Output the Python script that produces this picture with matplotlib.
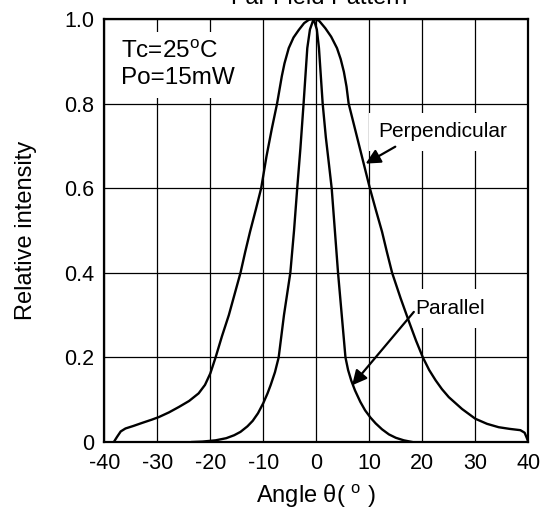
import numpy as np
import matplotlib.pyplot as plt

plt.rcParams['font.family'] = ['Liberation Sans', 'DejaVu Sans']
plt.rcParams['mathtext.fontset'] = 'custom'
plt.rcParams['mathtext.rm'] = 'Liberation Sans'
plt.rcParams['axes.unicode_minus'] = False

# far field pattern, relative intensity vs angle (deg)
perp_angle = [-38.2, -37.6, -36.9, -36.0, -34.5, -32.9, -31.0, -29.7, -27.8, -25.9,
              -24.0, -22.2, -21.0, -20.0, -19.0, -17.8, -16.5, -15.4, -14.3, -13.4,
              -12.5, -11.4, -10.4, -9.4, -8.4, -7.4, -6.5, -6.0, -5.2, -4.3,
              -3.3, -2.3, -1.4, -0.5, 0.5, 1.7, 2.8, 3.9, 4.6, 5.2,
              5.7, 6.1, 7.1, 8.1, 9.1, 10.1, 11.2, 12.4, 13.3, 14.3,
              15.9, 17.5, 18.8, 20.1, 21.3, 22.5, 23.7, 25.0, 27.5, 30.0,
              32.2, 34.4, 36.5, 38.5, 39.3, 39.7, 40.0]
perp_int = [0.0, 0.012, 0.025, 0.032, 0.038, 0.045, 0.053, 0.059, 0.070, 0.083,
            0.097, 0.115, 0.135, 0.162, 0.200, 0.250, 0.300, 0.350, 0.400, 0.450,
            0.497, 0.550, 0.600, 0.675, 0.740, 0.800, 0.865, 0.895, 0.931, 0.956,
            0.974, 0.990, 0.998, 1.0, 0.996, 0.978, 0.958, 0.931, 0.905, 0.875,
            0.840, 0.800, 0.750, 0.700, 0.650, 0.600, 0.550, 0.497, 0.450, 0.400,
            0.340, 0.284, 0.240, 0.200, 0.170, 0.146, 0.125, 0.106, 0.078, 0.055,
            0.043, 0.035, 0.031, 0.028, 0.022, 0.010, 0.0]

par_angle = [-23.4, -21.5, -19.0, -17.0, -15.5, -14.3, -13.0, -12.0, -11.0, -10.0,
             -9.2, -8.6, -7.8, -7.1, -6.6, -6.1, -5.5, -4.9, -4.2, -3.6,
             -3.0, -2.4, -1.7, -1.2, -0.5, 0.1, 0.5, 1.2, 1.8, 2.4,
             2.9, 3.5, 4.1, 4.8, 5.5, 6.0, 6.6, 7.3, 8.3, 9.2,
             10.2, 11.2, 12.4, 13.7, 15.0, 16.5, 18.1]
par_int = [0.0, 0.001, 0.004, 0.009, 0.016, 0.024, 0.037, 0.050, 0.068, 0.092,
           0.115, 0.135, 0.165, 0.200, 0.250, 0.300, 0.350, 0.400, 0.500, 0.600,
           0.694, 0.800, 0.931, 0.975, 1.0, 0.975, 0.931, 0.800, 0.720, 0.655,
           0.600, 0.500, 0.400, 0.300, 0.200, 0.170, 0.145, 0.122, 0.095, 0.075,
           0.058, 0.044, 0.030, 0.018, 0.010, 0.004, 0.0]

x_ticks = [-40, -30, -20, -10, 0, 10, 20, 30, 40]
y_ticks = [0, 0.2, 0.4, 0.6, 0.8, 1.0]
y_labels = ['0', '0.2', '0.4', '0.6', '0.8', '1.0']

fig = plt.figure(figsize=(5.5, 5.11), dpi=100)
ax = fig.add_axes([0.1896, 0.135, 0.7710, 0.8280])

ax.plot(perp_angle, perp_int, color='black', lw=1.7, zorder=5)
ax.plot(par_angle, par_int, color='black', lw=1.7, zorder=5)

ax.set_xlim(-40, 40)
ax.set_ylim(0, 1.0)
ax.set_xticks(x_ticks)
ax.set_yticks(y_ticks)
ax.set_yticklabels(y_labels)
ax.tick_params(length=0, labelsize=15.5)
ax.tick_params(axis='y', pad=7)
ax.tick_params(axis='x', pad=8)
ax.grid(True, color='black', lw=0.9)
ax.set_axisbelow(True)
for s in ax.spines.values():
    s.set_linewidth(1.6)

ax.set_xlabel('Angle θ( $^{\\rm o}$ )', fontsize=17, labelpad=6)
ax.set_ylabel('Relative intensity', fontsize=17, labelpad=20)

fig.text(0.58, 1 - 3.5 / 511, 'Far Field Pattern', fontsize=17,
         ha='center', va='baseline')

box = dict(facecolor='white', edgecolor='none', pad=6)
ax.text(-36.9, 0.845, 'Tc=25$^{\\rm o}$C\nPo=15mW', fontsize=17.5,
        ha='left', va='baseline', linespacing=1.25, bbox=box, zorder=3)
ax.text(23.9, 0.733, 'Perpendicular', fontsize=15, ha='center', va='center',
        bbox=dict(facecolor='white', edgecolor='none', pad=7), zorder=3)
ax.text(25.3, 0.316, 'Parallel', fontsize=15, ha='center', va='center',
        bbox=dict(facecolor='white', edgecolor='none', pad=7), zorder=3)

arrow = dict(arrowstyle='-|>', color='black', lw=1.6, mutation_scale=22,
             shrinkA=0, shrinkB=0)
ax.annotate('', xy=(9.3, 0.658), xytext=(14.9, 0.698), arrowprops=arrow, zorder=6)
ax.annotate('', xy=(6.75, 0.134), xytext=(18.4, 0.3075), arrowprops=arrow, zorder=6)

fig.savefig('out.png', dpi=100)
